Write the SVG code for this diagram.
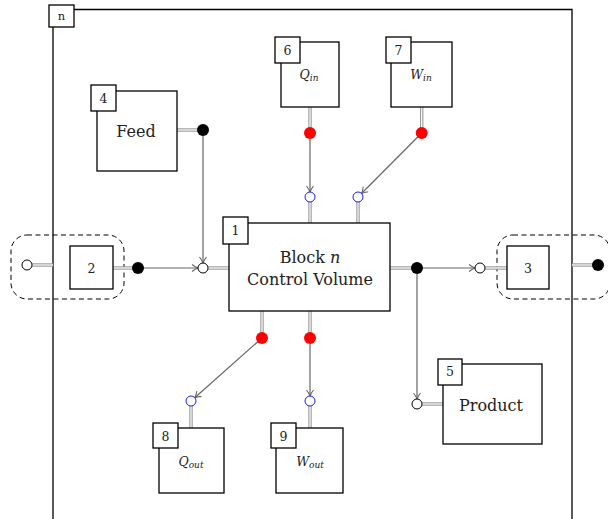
<svg xmlns="http://www.w3.org/2000/svg" xmlns:xlink="http://www.w3.org/1999/xlink" width="608" height="519" viewBox="0 0 608 519">
  <style>
    .box { fill: #fff; stroke: #000; stroke-width: 1.3; }
    .tag { fill: #fff; stroke: #000; stroke-width: 1.3; }
    .frame { fill: none; stroke: #000; stroke-width: 1.3; }
    .zone { fill: none; stroke: #000; stroke-width: 1; stroke-dasharray: 5 3.5; }
    .arr { fill: none; stroke: #666; stroke-width: 1.2; marker-end: url(#head); }
    .dblo { fill: none; stroke: #9a9a9a; stroke-width: 3.4; }
    .dbli { fill: none; stroke: #fff; stroke-width: 1.2; }
    .port-in { fill: #fff; stroke: #000; stroke-width: 1; }
    .port-out { fill: #000; }
    .hport-in { fill: #fff; stroke: #1a1aff; stroke-width: 1; }
    .hport-out { fill: #f00; }
    text { fill: #222; text-anchor: middle; }
    .big { font-size: 16px; }
    .num { font-size: 12.5px; }
    .sym { font-size: 12.5px; font-style: italic; }
    .sub { font-size: 9px; font-style: italic; }
  </style>
  <defs>
    <marker id="head" markerUnits="userSpaceOnUse" markerWidth="12" markerHeight="12" refX="0" refY="0" viewBox="-8 -6 10 12" orient="auto">
      <path d="M-6,-3.5 Q-2.5,-0.8 0,0 Q-2.5,0.8 -6,3.5" fill="none" stroke="#666" stroke-width="1.1"/>
    </marker>
    <g id="links">
      <path d="M53,265 H32"/>
      <path d="M113,268 H134"/>
      <path d="M177,130 H199"/>
      <path d="M208,268 H229"/>
      <path d="M310,107 V129"/>
      <path d="M421.7,107 V129"/>
      <path d="M310,202 V223"/>
      <path d="M358,202 V223"/>
      <path d="M390,268 H413"/>
      <path d="M485,268 H507"/>
      <path d="M572,265 H594"/>
      <path d="M262,311 V334"/>
      <path d="M310,311 V334"/>
      <path d="M191,406 V428"/>
      <path d="M310,406 V428"/>
      <path d="M422,404 H443"/>
    </g>
  </defs>

  <g font-family="'DejaVu Serif', 'Liberation Serif', serif">
  <!-- outer block frame -->
  <g id="frame">
    <path class="frame" d="M53,519 V9.5 H572 V519"/>
    <rect class="tag" x="49" y="5" width="25" height="22"/>
    <text x="61.5" y="20" style="font-size:11.5px">n</text>
  </g>

  <!-- inlet / outlet zones -->
  <rect class="zone" x="11" y="235" width="113" height="64" rx="16"/>
  <rect class="zone" x="497" y="235" width="113" height="64" rx="16"/>

  <!-- connectors -->
  <g id="connectors">
    <use xlink:href="#links" class="dblo"/>
    <use xlink:href="#links" class="dbli"/>
    <path class="arr" d="M138,268 H198"/>
    <path class="arr" d="M203,136 V263"/>
    <path class="arr" d="M310,139 V192"/>
    <path class="arr" d="M421.7,133 L361.5,193.5"/>
    <path class="arr" d="M417,274 V399"/>
    <path class="arr" d="M417,268 H475"/>
    <path class="arr" d="M262,338 L194.7,397.7"/>
    <path class="arr" d="M310,344 V396"/>
  </g>

  <!-- ports -->
  <g id="ports">
    <circle class="port-in" cx="27" cy="265" r="5"/>
    <circle class="port-out" cx="138" cy="268" r="6"/>
    <circle class="port-out" cx="203" cy="130" r="6"/>
    <circle class="port-in" cx="203" cy="268" r="5"/>
    <circle class="port-out" cx="417" cy="268" r="6"/>
    <circle class="port-in" cx="480" cy="268" r="5"/>
    <circle class="port-out" cx="598" cy="265" r="6"/>
    <circle class="port-in" cx="417" cy="404" r="5"/>
    <circle class="hport-out" cx="310" cy="133" r="6"/>
    <circle class="hport-out" cx="421.7" cy="133" r="6"/>
    <circle class="hport-in" cx="310" cy="197" r="5"/>
    <circle class="hport-in" cx="358" cy="197" r="5"/>
    <circle class="hport-out" cx="262" cy="338" r="6"/>
    <circle class="hport-out" cx="310" cy="338" r="6"/>
    <circle class="hport-in" cx="191" cy="401" r="5"/>
    <circle class="hport-in" cx="310" cy="401" r="5"/>
  </g>

  <!-- nodes -->
  <g id="node1">
    <rect class="box" x="229" y="223" width="161" height="88"/>
    <rect class="tag" x="223" y="217" width="25" height="27"/>
    <text class="num" x="235.5" y="235">1</text>
    <text class="big" x="310" y="263">Block <tspan font-style="italic">n</tspan></text>
    <text class="big" x="310" y="284.5">Control Volume</text>
  </g>
  <g id="node2">
    <rect class="box" x="70" y="246" width="43" height="43"/>
    <text class="num" x="91.5" y="272.5">2</text>
  </g>
  <g id="node3">
    <rect class="box" x="507" y="246" width="42" height="43"/>
    <text class="num" x="528" y="272.5">3</text>
  </g>
  <g id="node4">
    <rect class="box" x="97" y="91" width="80" height="80"/>
    <rect class="tag" x="91" y="85" width="25" height="26"/>
    <text class="num" x="103.5" y="103">4</text>
    <text class="big" x="136" y="136.5">Feed</text>
  </g>
  <g id="node5">
    <rect class="box" x="443" y="364" width="99" height="80"/>
    <rect class="tag" x="438" y="359" width="24" height="26"/>
    <text class="num" x="450" y="376">5</text>
    <text class="big" x="491" y="410.5">Product</text>
  </g>
  <g id="node6">
    <rect class="box" x="281" y="42" width="58" height="65"/>
    <rect class="tag" x="275" y="37" width="25" height="26"/>
    <text class="num" x="287.5" y="55">6</text>
    <text class="sym" x="309" y="79">Q<tspan class="sub" dy="2">in</tspan></text>
  </g>
  <g id="node7">
    <rect class="box" x="391" y="42" width="61" height="65"/>
    <rect class="tag" x="386" y="37" width="25" height="26"/>
    <text class="num" x="398.5" y="55">7</text>
    <text class="sym" x="421" y="79">W<tspan class="sub" dy="2">in</tspan></text>
  </g>
  <g id="node8">
    <rect class="box" x="159" y="428" width="65" height="65"/>
    <rect class="tag" x="153" y="423" width="25" height="25"/>
    <text class="num" x="165.5" y="441">8</text>
    <text class="sym" x="191" y="466">Q<tspan class="sub" dy="2">out</tspan></text>
  </g>
  <g id="node9">
    <rect class="box" x="276" y="428" width="67" height="65"/>
    <rect class="tag" x="271" y="423" width="25" height="25"/>
    <text class="num" x="283.5" y="441">9</text>
    <text class="sym" x="310" y="466">W<tspan class="sub" dy="2">out</tspan></text>
  </g>
  </g>
</svg>
